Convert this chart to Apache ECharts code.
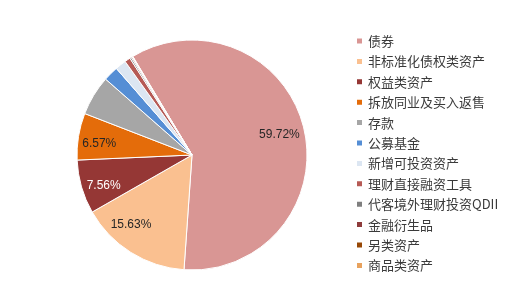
<!DOCTYPE html>
<html>
<head>
<meta charset="utf-8">
<script src="https://cdn.jsdelivr.net/npm/echarts@6/dist/echarts.min.js"></script>
<style>
  html, body { margin: 0; padding: 0; background: #ffffff; }
  #chart { width: 514px; height: 307px; }
</style>
</head>
<body>
<div id="chart"></div>
<script>
// Asset allocation shares (%)
const categories = [
  '债券', '非标准化债权类资产', '权益类资产', '拆放同业及买入返售', '存款',
  '公募基金', '新增可投资资产', '理财直接融资工具', '代客境外理财投资QDII',
  '金融衍生品', '另类资产', '商品类资产'
];
const shares = [59.72, 15.63, 7.56, 6.57, 5.60, 2.10, 1.55, 0.80, 0.22, 0.15, 0.06, 0.04];
const sliceColors = [
  '#d99694', '#fac090', '#953735', '#e46c0a', '#a6a6a6', '#558ed5',
  '#dce6f2', '#b65a55', '#7f7f7f', '#8e3b3b', '#974806', '#e8a25e'
];
// Only the large slices carry a percentage label
const labelledShares = ['债券', '非标准化债权类资产', '权益类资产', '拆放同业及买入返售'];
const labelColors = { '权益类资产': '#ffffff' };
const labelNudge = {
  '债券': [-4, 2],
  '非标准化债权类资产': [-11, -10],
  '权益类资产': [2, 5],
  '拆放同业及买入返售': [0, 4]
};

const center = [192, 155];
const R = 115;

const pieData = categories.map((name, i) => ({
  name: name,
  value: shares[i],
  itemStyle: { color: sliceColors[i] }
}));

const labelData = categories.map((name, i) => ({
  name: name,
  value: shares[i],
  label: {
    show: labelledShares.includes(name),
    color: labelColors[name] || '#262626',
    offset: labelNudge[name] || [0, 0]
  }
}));

const chart = echarts.init(document.getElementById('chart'), null, { renderer: 'canvas' });
chart.setOption({
  backgroundColor: '#ffffff',
  animation: false,
  legend: {
    orient: 'vertical',
    left: 355,
    top: 34,
    padding: 0,
    icon: 'rect',
    itemWidth: 7,
    itemHeight: 7,
    itemGap: 6.4,
    data: categories,
    textStyle: {
      fontFamily: 'Noto Sans CJK SC',
      fontSize: 13,
      lineHeight: 14,
      color: '#3a3a3a'
    }
  },
  series: [
    {
      type: 'pie',
      center: center,
      radius: [0, R],
      startAngle: 121,
      clockwise: true,
      label: { show: false },
      labelLine: { show: false },
      itemStyle: { borderColor: '#ffffff', borderWidth: 1 },
      emphasis: { disabled: true },
      data: pieData
    },
    {
      // transparent ring used only to place the value labels near the rim
      type: 'pie',
      center: center,
      radius: [Math.round(R * 0.58), R],
      startAngle: 121,
      clockwise: true,
      silent: true,
      legendHoverLink: false,
      itemStyle: { color: 'rgba(0,0,0,0)', borderWidth: 0 },
      labelLine: { show: false },
      label: {
        position: 'inside',
        fontFamily: 'Liberation Sans',
        fontSize: 12,
        formatter: p => p.value.toFixed(2) + '%'
      },
      emphasis: { disabled: true },
      data: labelData
    }
  ]
});
</script>
</body>
</html>
